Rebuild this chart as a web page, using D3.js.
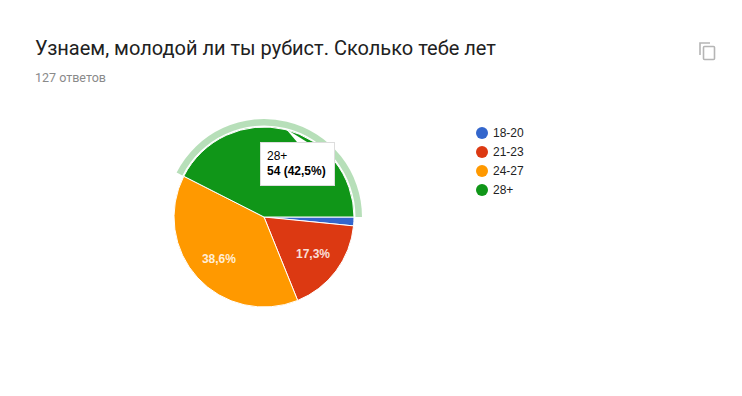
<!DOCTYPE html>
<html>
<head>
<meta charset="utf-8">
<script src="https://cdnjs.cloudflare.com/ajax/libs/d3/7.8.5/d3.min.js"></script>
<style>
html, body { margin: 0; padding: 0; background: #fff; }
svg { display: block; }
</style>
</head>
<body>
<div id="chart"></div>
<script>
"use strict";
const titleText = "Узнаем, молодой ли ты рубист. Сколько тебе лет";
const subtitleText = "127 ответов";
const categories = ["18-20", "21-23", "24-27", "28+"];
const counts = [2, 22, 49, 54];
const percentLabels = ["1,6%", "17,3%", "38,6%", "42,5%"];
const colors = ["#3366cc", "#dc3912", "#ff9900", "#109618"];

const width = 742, height = 396;
const cx = 264, cy = 217, radius = 90;

const svg = d3.select("#chart").append("svg")
	.attr("width", width)
	.attr("height", height);

svg.append("text")
	.attr("x", 35)
	.attr("y", 55)
	.attr("font-family", "Roboto")
	.attr("font-size", 20)
	.attr("fill", "#212121")
	.text(titleText);

svg.append("text")
	.attr("x", 35)
	.attr("y", 82)
	.attr("font-family", "Roboto")
	.attr("font-size", 12.5)
	.attr("fill", "#8a8a8a")
	.text(subtitleText);

// copy icon
const icon = svg.append("g")
	.attr("transform", "translate(699,42)")
	.attr("fill", "none")
	.attr("stroke", "#b5b5b5")
	.attr("stroke-width", 1.6);
icon.append("path").attr("d", "M1,13V1H11");
icon.append("rect").attr("x", 4.5).attr("y", 4.5).attr("width", 11).attr("height", 13).attr("rx", 1);

// slices go clockwise from 3 o'clock
const pie = d3.pie().sort(null).value(d => d)
	.startAngle(Math.PI / 2)
	.endAngle(Math.PI / 2 + 2 * Math.PI);
const arcs = pie(counts);
const arc = d3.arc().innerRadius(0).outerRadius(radius);
const labelArc = d3.arc().innerRadius(radius * 0.68).outerRadius(radius * 0.68);
const ringArc = d3.arc().innerRadius(radius + 1.5).outerRadius(radius + 8);

const chart = svg.append("g").attr("transform", `translate(${cx},${cy})`);

chart.selectAll("path.slice")
	.data(arcs)
	.enter()
	.append("path")
	.attr("class", "slice")
	.attr("d", arc)
	.attr("fill", (d, i) => colors[i])
	.attr("stroke", "#fff")
	.attr("stroke-width", 1);

// hover ring of the selected slice
chart.append("path")
	.attr("d", ringArc(arcs[3]))
	.attr("fill", "#109618")
	.attr("fill-opacity", 0.3);

chart.selectAll("text.pct")
	.data(arcs.slice(1, 3))
	.enter()
	.append("text")
	.attr("class", "pct")
	.attr("transform", d => `translate(${labelArc.centroid(d)})`)
	.attr("text-anchor", "middle")
	.attr("dy", "0.35em")
	.attr("font-family", "Liberation Sans")
	.attr("font-size", 12)
	.attr("font-weight", "bold")
	.attr("fill", "#fff")
	.attr("fill-opacity", 0.85)
	.text((d, i) => percentLabels[i + 1]);

// legend
const legendY = d3.scalePoint().domain(categories).range([133, 190]);
const legend = svg.selectAll("g.legend")
	.data(categories)
	.enter()
	.append("g")
	.attr("class", "legend")
	.attr("transform", d => `translate(482,${legendY(d)})`);
legend.append("circle")
	.attr("r", 6)
	.attr("fill", (d, i) => colors[i]);
legend.append("text")
	.attr("x", 11)
	.attr("dy", "0.36em")
	.attr("font-family", "Liberation Sans")
	.attr("font-size", 12)
	.attr("fill", "#222")
	.text(d => d);

// tooltip
const tip = svg.append("g");
tip.append("path")
	.attr("d", "M286,129L297,142H307Z")
	.attr("fill", "#fff");
tip.append("rect")
	.attr("x", 260.5)
	.attr("y", 142.5)
	.attr("width", 74)
	.attr("height", 43)
	.attr("fill", "#fff")
	.attr("stroke", "#ddd")
	.attr("stroke-width", 1);
tip.append("text")
	.attr("x", 267)
	.attr("y", 160)
	.attr("font-family", "Liberation Sans")
	.attr("font-size", 12)
	.attr("fill", "#000")
	.text(categories[3]);
tip.append("text")
	.attr("x", 267)
	.attr("y", 175)
	.attr("font-family", "Liberation Sans")
	.attr("font-size", 12)
	.attr("font-weight", "bold")
	.attr("fill", "#000")
	.text(`${counts[3]} (${percentLabels[3]})`);
</script>
</body>
</html>
